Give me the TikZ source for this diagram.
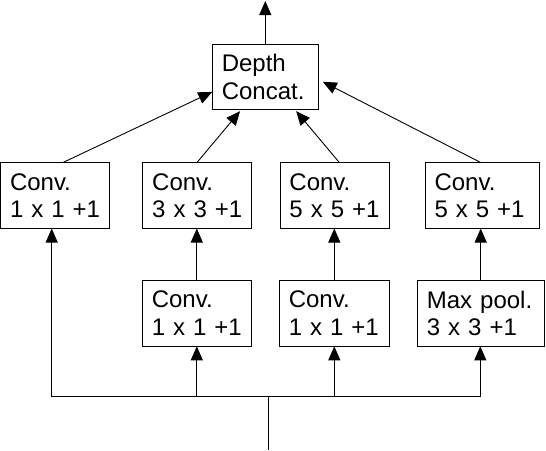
\documentclass[tikz,border=0pt]{standalone}
\usepackage{fontspec}
\setmainfont{Liberation Sans}
\usetikzlibrary{arrows.meta}
\begin{document}
\begin{tikzpicture}[x=1pt,y=-1pt,
  box/.style={draw, line width=0.9pt, outer sep=0pt, align=left,
    inner xsep=9.5pt, inner ysep=0pt, minimum height=66pt,
    font=\fontsize{24}{27.5}\selectfont, text width=#1},
  conn/.style={line width=0.9pt},
  arr/.style={conn, -{Triangle[length=14pt,width=12pt]}}]
\useasboundingbox (0,0) rectangle (546,450);
% nodes
\node[box=87pt, minimum height=64.7pt] (depth) at (265.3,76.7) {\mbox{Depth}\\\mbox{Concat.}};
\node[box=90pt]   (c1) at (55,195.5)    {\mbox{Conv.}\\\mbox{1 x 1 +1}};
\node[box=89.6pt] (c2) at (197,195.5)   {\mbox{Conv.}\\\mbox{3 x 3 +1}};
\node[box=90.3pt] (c3) at (334.6,195.5) {\mbox{Conv.}\\\mbox{5 x 5 +1}};
\node[box=95.3pt] (c4) at (482.2,195.5) {\mbox{Conv.}\\\mbox{5 x 5 +1}};
\node[box=90pt]   (b5) at (196.8,313.3) {\mbox{Conv.}\\\mbox{1 x 1 +1}};
\node[box=91pt]   (b6) at (334.3,313.3) {\mbox{Conv.}\\\mbox{1 x 1 +1}};
\node[box=107.7pt](b7) at (480.7,313.3) {\mbox{Max pool.}\\\mbox{3 x 3 +1}};
% free ends
\coordinate (out) at (265.3,1);
\coordinate (L) at (51.7,396.8);
\coordinate (R) at (480.3,396.8);
\coordinate (in) at (268.3,450);
% top connectors
\draw[arr] (depth.north) -- (out);
\draw[arr] ([xshift=8pt]c1.north) -- (depth.196);
\draw[arr, shorten >=2.7pt] (c2.north) -- (depth.234);
\draw[arr, shorten >=2.7pt] ([xshift=4.7pt]c3.north) -- (depth.312);
\draw[arr, shorten >=5pt] ([xshift=-1.5pt]c4.north) -- (depth.357);
% middle connectors
\draw[arr] (b5.north) -- (b5.north |- c2.south);
\draw[arr] (b6.north) -- (b6.north |- c3.south);
\draw[arr] (b7.north) -- (b7.north |- c4.south);
% bottom distribution
\draw[conn] (L) -- (R);
\draw[arr] (L) -- (L |- c1.south);
\draw[arr] (b5.south |- L) -- (b5.south);
\draw[arr] (b6.south |- L) -- (b6.south);
\draw[arr] (R) -- (R |- b7.south);
\draw[conn] (in) -- (in |- L);
\end{tikzpicture}
\end{document}
